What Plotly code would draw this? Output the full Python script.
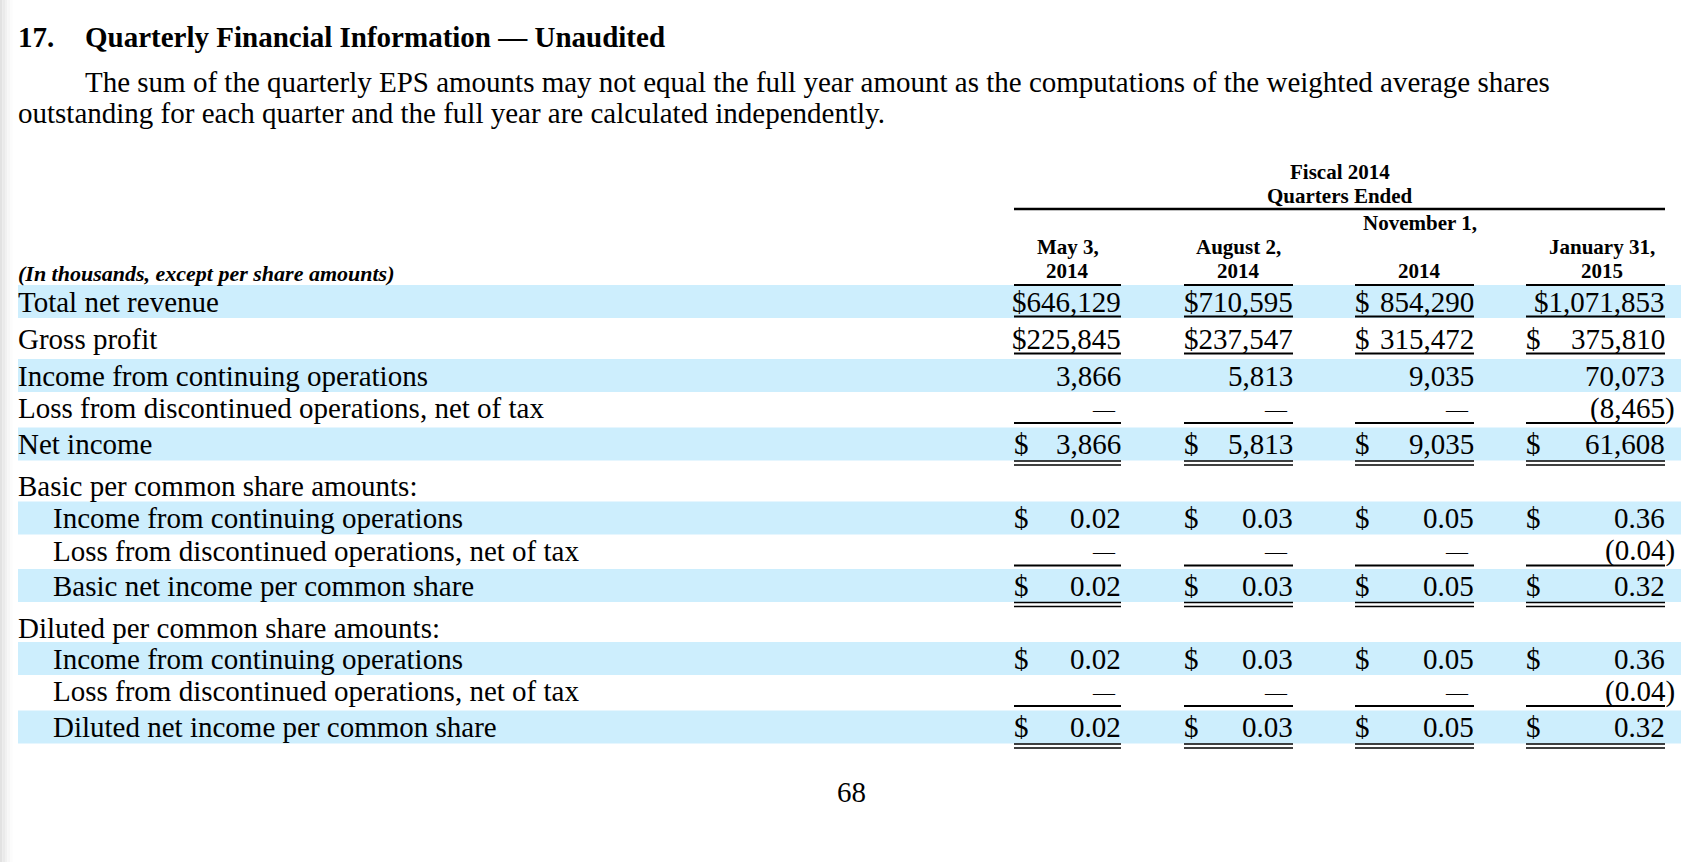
import plotly.graph_objects as go

# ---- data ----
quarter_dates = ["May 3,", "August 2,", "November 1,", "January 31,"]
quarter_years = ["2014", "2014", "2014", "2015"]

row_labels = [
    "Total net revenue",
    "Gross profit",
    "Income from continuing operations",
    "Loss from discontinued operations, net of tax",
    "Net income",
    "Basic per common share amounts:",
    "Income from continuing operations",
    "Loss from discontinued operations, net of tax",
    "Basic net income per common share",
    "Diluted per common share amounts:",
    "Income from continuing operations",
    "Loss from discontinued operations, net of tax",
    "Diluted net income per common share",
]

total_net_revenue = [646129, 710595, 854290, 1071853]
gross_profit = [225845, 237547, 315472, 375810]
income_continuing = [3866, 5813, 9035, 70073]
loss_discontinued = [0, 0, 0, -8465]
net_income = [3866, 5813, 9035, 61608]
basic_continuing = [0.02, 0.03, 0.05, 0.36]
basic_discontinued = [0, 0, 0, -0.04]
basic_net = [0.02, 0.03, 0.05, 0.32]
diluted_continuing = [0.02, 0.03, 0.05, 0.36]
diluted_discontinued = [0, 0, 0, -0.04]
diluted_net = [0.02, 0.03, 0.05, 0.32]

# values per row (None = section heading), per-share flag, $ sign, rule below
rows = [
    (total_net_revenue, False, True, "single"),
    (gross_profit, False, True, "single"),
    (income_continuing, False, False, None),
    (loss_discontinued, False, False, "single"),
    (net_income, False, True, "double"),
    (None, True, False, None),
    (basic_continuing, True, True, None),
    (basic_discontinued, True, False, "single"),
    (basic_net, True, True, "double"),
    (None, True, False, None),
    (diluted_continuing, True, True, None),
    (diluted_discontinued, True, False, "single"),
    (diluted_net, True, True, "double"),
]
banded = [True, False, True, False, True, False, True, False, True, False, True, False, True]
indented = [False] * 6 + [True, True, True, False, True, True, True]
# cells where the $ sits right against the figure
dollar_tight = {(0, 0), (0, 1), (0, 3), (1, 0), (1, 1)}

# ---- layout geometry (page pixels) ----
W, H = 1706, 862
row_y = [301.5, 338.5, 375.5, 408, 444, 485.5, 518, 550.5, 585.5, 628, 658.5, 691, 727]
col_left = [1014, 1184, 1355, 1526]
col_right = [1121, 1293, 1474, 1665]
date_line_y = [247, 247, 223, 247]
date_shift = [0, 0, 5, 6]
band_x0, band_x1 = 18, 1681
band_half = 16.5
SERIF = "Liberation Serif, Times New Roman, serif"
BLUE = "#cdeefd"
FS = 29
HFS = 21


def fmt(v, per_share):
    if v == 0:
        return "—"
    s = f"{abs(v):.2f}" if per_share else f"{abs(v):,}"
    return f"({s})" if v < 0 else s


fig = go.Figure()
fig.add_trace(go.Scatter(x=[0, W], y=[0, H], mode="markers", marker=dict(opacity=0),
                         hoverinfo="skip", showlegend=False))

shapes = []
ann = []

# left page shadow
for i, c in enumerate(["#e2e2e2", "#eaeaea", "#f1f1f1", "#f7f7f7", "#fcfcfc"]):
    shapes.append(dict(type="rect", x0=i * 2.5, x1=(i + 1) * 2.5, y0=0, y1=H,
                       fillcolor=c, line=dict(width=0), layer="below"))

# heading and paragraph
ann.append(dict(x=16, y=37, text="<b>17.</b>", xanchor="left", font=dict(size=FS)))
ann.append(dict(x=83, y=37, text="<b>Quarterly Financial Information — Unaudited</b>",
                xanchor="left", font=dict(size=FS)))
ann.append(dict(x=83, y=82, xanchor="left", font=dict(size=FS),
                text="The sum of the quarterly EPS amounts may not equal the full year amount as the "
                     "computations of the weighted average shares"))
ann.append(dict(x=16, y=113, xanchor="left", font=dict(size=FS),
                text="outstanding for each quarter and the full year are calculated independently."))

# column header block
hdr_mid = (col_left[0] + col_right[-1]) / 2
ann.append(dict(x=hdr_mid, y=172, text="<b>Fiscal 2014</b>", font=dict(size=HFS)))
ann.append(dict(x=hdr_mid, y=196, text="<b>Quarters Ended</b>", font=dict(size=HFS)))
shapes.append(dict(type="line", x0=col_left[0], x1=col_right[-1], y0=209, y1=209,
                   line=dict(color="black", width=2.5)))
for j in range(4):
    cx = (col_left[j] + col_right[j]) / 2 + date_shift[j]
    ann.append(dict(x=cx, y=date_line_y[j], text=f"<b>{quarter_dates[j]}</b>", font=dict(size=HFS)))
    ann.append(dict(x=cx, y=271, text=f"<b>{quarter_years[j]}</b>", font=dict(size=HFS)))
ann.append(dict(x=16, y=273, xanchor="left", font=dict(size=22),
                text="<b><i>(In thousands, except per share amounts)</i></b>"))

# bands
for i, y in enumerate(row_y):
    if banded[i]:
        shapes.append(dict(type="rect", x0=band_x0, x1=band_x1, y0=y - band_half, y1=y + band_half,
                           fillcolor=BLUE, line=dict(width=0), layer="below"))

# rules above first data row
for j in range(4):
    shapes.append(dict(type="line", x0=col_left[j], x1=col_right[j],
                       y0=row_y[0] - 16.5, y1=row_y[0] - 16.5, line=dict(color="black", width=2)))

# rows
for i, (label, (vals, per_share, dollar, rule)) in enumerate(zip(row_labels, rows)):
    y = row_y[i]
    ann.append(dict(x=51 if indented[i] else 16, y=y, xanchor="left", text=label,
                    font=dict(size=FS)))
    if vals is None:
        continue
    for j, v in enumerate(vals):
        t = fmt(v, per_share)
        if v == 0:
            ann.append(dict(x=col_right[j] - 3, y=y, xanchor="right", text=t,
                            font=dict(size=22), yshift=-1))
        elif (i, j) in dollar_tight:
            ann.append(dict(x=col_right[j] + 2, y=y, xanchor="right", text="$" + t, font=dict(size=FS)))
        else:
            ann.append(dict(x=col_right[j] + (12 if v < 0 else 2), y=y, xanchor="right", text=t,
                            font=dict(size=FS)))
            if dollar:
                ann.append(dict(x=col_left[j] - 2, y=y, xanchor="left", text="$", font=dict(size=FS)))
        if rule == "single":
            yy = y + 15
            shapes.append(dict(type="line", x0=col_left[j], x1=col_right[j], y0=yy, y1=yy,
                               line=dict(color="black", width=2)))
        elif rule == "double":
            for yy in (y + 17, y + 21):
                shapes.append(dict(type="line", x0=col_left[j], x1=col_right[j], y0=yy, y1=yy,
                                   line=dict(color="black", width=1.5)))

# page number
ann.append(dict(x=851, y=792, text="68", font=dict(size=FS)))

for a in ann:
    a.setdefault("showarrow", False)
    a.setdefault("xref", "x")
    a.setdefault("yref", "y")
    a.setdefault("yanchor", "middle")
    a["font"].setdefault("family", SERIF)
    a["font"].setdefault("color", "black")

fig.update_layout(
    width=W, height=H,
    margin=dict(l=0, r=0, t=0, b=0),
    paper_bgcolor="white", plot_bgcolor="white",
    xaxis=dict(range=[0, W], visible=False, fixedrange=True),
    yaxis=dict(range=[H, 0], visible=False, fixedrange=True),
    shapes=shapes, annotations=ann, showlegend=False,
)

fig.write_html("out.html", config={"displayModeBar": False},
               post_script="document.body.style.margin='0';document.body.style.overflow='hidden';")
